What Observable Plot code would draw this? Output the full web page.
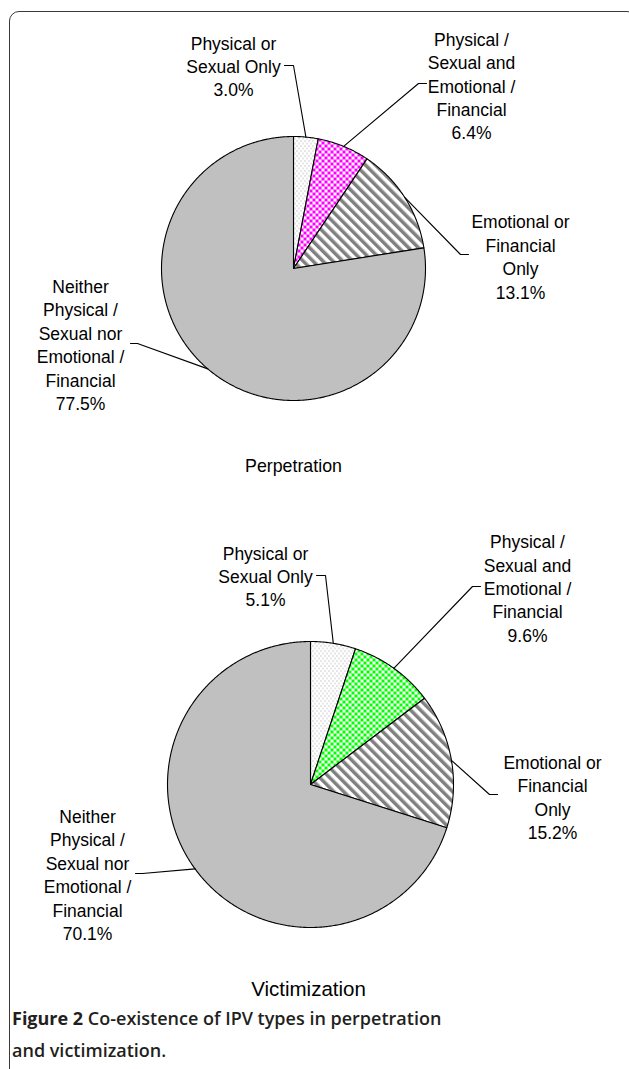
<!DOCTYPE html>
<html><head><meta charset="utf-8">
<script src="https://cdn.jsdelivr.net/npm/d3@7"></script>
<script src="https://cdn.jsdelivr.net/npm/@observablehq/plot@0.6"></script>
<style>
html,body{margin:0;padding:0;background:#fff;overflow:hidden;}
#page{position:relative;width:629px;height:1069px;overflow:hidden;background:#fff;}
#frame{position:absolute;left:8.6px;top:10.8px;width:628px;height:1100px;border:1.6px solid #3a3a3a;border-radius:10px;box-sizing:border-box;}
#charts{position:absolute;left:0;top:0;}
#charts svg{display:block;}
#caption{position:absolute;left:12px;top:1002px;font-family:"Open Sans",sans-serif;font-size:18px;line-height:32px;color:#231f20;font-weight:600;white-space:nowrap;}
#caption b{font-weight:700;}
</style></head>
<body>
<div id="page">
  <div id="frame"></div>
  <div id="charts"></div>
  <div id="caption"><b>Figure 2</b> Co-existence of IPV types in perpetration<br>and victimization.</div>
</div>
<script>
// ---- data ----
const categories = [
  "Physical or Sexual Only",
  "Physical / Sexual and Emotional / Financial",
  "Emotional or Financial Only",
  "Neither Physical / Sexual nor Emotional / Financial"
];
const labelLines = [
  ["Physical or", "Sexual Only"],
  ["Physical /", "Sexual and", "Emotional /", "Financial"],
  ["Emotional or", "Financial", "Only"],
  ["Neither", "Physical /", "Sexual nor", "Emotional /", "Financial"]
];
const perpetration = [3.0, 6.4, 13.1, 77.5];
const victimization = [5.1, 9.6, 15.2, 70.1];
const titles = ["Perpetration", "Victimization"];
const checkerColors = ["#ff00ff", "#00ff00"];

// ---- layout (pixels, label offsets relative to pie centre) ----
const W = 629;
const layouts = [
  {H: 490, cx: 293, cy: 268, r: 132, titleFont: 17.8, title: [0, 198],
   labels: [
     {t: [-60, -203], b: [0, -203], e: [-9, -203]},
     {t: [178, -183.5], b: [125, -185], e: [133, -185]},
     {t: [227, -12.5], b: [167, -14], e: [175, -14]},
     {t: [-213, 75.5], b: [-156, 75], e: [-163, 75]}
   ]},
  {H: 510, cx: 310, cy: 294, r: 143, titleFont: 20.5, title: [-2, 205],
   labels: [
     {t: [-45, -209], b: [15, -209], e: [6, -209]},
     {t: [217, -197], b: [162, -198], e: [170, -198]},
     {t: [242, 12], b: [179, 10], e: [187, 10]},
     {t: [-223, 89.5], b: [-168, 89], e: [-175, 89]}
   ]}
];

const FONT = "Liberation Sans, Arial, Helvetica, sans-serif";

function drawPie(values, L, idx) {
  const {H, cx, cy, r} = L;
  const U = dx => dx / r, V = dy => -dy / r;
  const arcs = d3.pie().sort(null).value(d => d)(values);
  const fills = [`url(#dots${idx})`, `url(#chk${idx})`, `url(#stripes${idx})`, "#c0c0c0"];
  const marks = [];
  arcs.forEach((a, i) => {
    const pts = [{x: 0, y: 0}];
    const n = Math.max(4, Math.ceil((a.endAngle - a.startAngle) / (Math.PI / 360)));
    for (let k = 0; k <= n; k++) {
      const t = a.startAngle + (a.endAngle - a.startAngle) * k / n;
      pts.push({x: Math.sin(t), y: Math.cos(t)});
    }
    pts.push({x: 0, y: 0});
    marks.push(Plot.line(pts, {x: "x", y: "y", fill: fills[i], stroke: "#000", strokeWidth: 1.1, strokeLinejoin: "round"}));
  });
  // leader lines
  arcs.forEach((a, i) => {
    const m = (a.startAngle + a.endAngle) / 2;
    const lb = L.labels[i];
    const pts = [
      {x: Math.sin(m), y: Math.cos(m)},
      {x: U(lb.b[0]), y: V(lb.b[1])},
      {x: U(lb.e[0]), y: V(lb.e[1])}
    ];
    marks.push(Plot.line(pts, {x: "x", y: "y", stroke: "#000", strokeWidth: 1.1}));
  });
  const labelData = arcs.map((a, i) => ({
    x: U(L.labels[i].t[0]), y: V(L.labels[i].t[1]),
    text: [...labelLines[i], values[i].toFixed(1) + "%"].join("\n")
  }));
  marks.push(Plot.text(labelData, {x: "x", y: "y", text: "text", textAnchor: "middle", lineAnchor: "middle",
    fontSize: 17.5, lineHeight: 1.34, fontFamily: FONT, fill: "#000"}));
  marks.push(Plot.text([{x: U(L.title[0]), y: V(L.title[1]), text: titles[idx]}],
    {x: "x", y: "y", text: "text", textAnchor: "middle", lineAnchor: "middle", fontSize: L.titleFont, fontFamily: FONT, fill: "#000"}));

  const svg = Plot.plot({
    width: W, height: H, margin: 0,
    style: {background: "transparent", overflow: "visible"},
    x: {domain: [-cx / r, (W - cx) / r], range: [0, W], axis: null},
    y: {domain: [-(H - cy) / r, cy / r], range: [H, 0], axis: null},
    marks
  });
  const c = checkerColors[idx];
  d3.select(svg).insert("defs", ":first-child").html(`
    <pattern id="dots${idx}" patternUnits="userSpaceOnUse" width="4" height="5">
      <rect width="4" height="5" fill="#fff"/>
      <rect x="0" y="0" width="1" height="1" fill="#999"/>
      <rect x="2" y="2.5" width="1" height="1" fill="#999"/>
    </pattern>
    <pattern id="chk${idx}" patternUnits="userSpaceOnUse" width="6" height="6">
      <rect width="6" height="6" fill="#fff"/>
      <rect width="3" height="3" fill="${c}"/>
      <rect x="3" y="3" width="3" height="3" fill="${c}"/>
    </pattern>
    <pattern id="stripes${idx}" patternUnits="userSpaceOnUse" width="7" height="7" patternTransform="rotate(-45)">
      <rect width="7" height="7" fill="#fff"/>
      <rect width="3.5" height="7" fill="#808080"/>
    </pattern>`);
  return svg;
}

const host = document.getElementById("charts");
host.appendChild(drawPie(perpetration, layouts[0], 0));
host.appendChild(drawPie(victimization, layouts[1], 1));
</script>
</body></html>
